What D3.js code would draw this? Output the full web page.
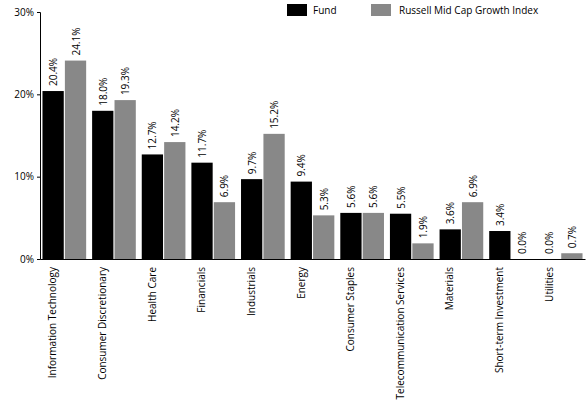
<!DOCTYPE html><html><head><script src="https://cdn.jsdelivr.net/npm/d3@7"></script>
<style>body{margin:0;background:#fff}text{font-family:"Open Sans",sans-serif;font-size:10px;fill:#000}</style></head><body>
<svg id="c" width="588" height="403"></svg>
<script>
const categories=["Information Technology","Consumer Discretionary","Health Care","Financials","Industrials","Energy","Consumer Staples","Telecommunication Services","Materials","Short-term Investment","Utilities"];
const fund=[20.4,18.0,12.7,11.7,9.7,9.4,5.6,5.5,3.6,3.4,0.0];
const index=[24.1,19.3,14.2,6.9,15.2,5.3,5.6,1.9,6.9,0.0,0.7];
const yTicks=[0,10,20,30];
const series=[{name:"Fund",vals:fund,color:"#000"},{name:"Russell Mid Cap Growth Index",vals:index,color:"#888"}];
const svg=d3.select("#c");
const x=d3.scaleBand().domain(categories).range([40,585]).paddingInner(0.12).paddingOuter(0.05);
const xs=d3.scaleBand().domain([0,1]).range([0,x.bandwidth()]).paddingInner(0.05);
const y=d3.scaleLinear().domain([0,30]).range([259,12]);
const ya=svg.append("g").attr("transform","translate(40,0)").call(d3.axisLeft(y).tickValues(yTicks).tickFormat(d=>d+"%").tickSize(3));
ya.selectAll("text").style("font-size","10px");
series.forEach((s,i)=>{
  const g=svg.append("g");
  g.selectAll("rect").data(s.vals).join("rect").attr("x",(d,j)=>x(categories[j])+xs(i)).attr("width",xs.bandwidth())
   .attr("y",d=>y(d)).attr("height",d=>259-y(d)).attr("fill",s.color);
  g.selectAll("text").data(s.vals).join("text").attr("transform",(d,j)=>`translate(${x(categories[j])+xs(i)+xs.bandwidth()/2+4},${y(d)-5}) rotate(-90)`)
   .text(d=>d.toFixed(1)+"%");
});
const xa=svg.append("g").attr("transform","translate(0,259)").call(d3.axisBottom(x).tickSize(0).tickFormat(""));
svg.append("g").selectAll("text").data(categories).join("text").attr("text-anchor","end")
 .attr("transform",d=>`translate(${x(d)+x.bandwidth()/2-8},267) rotate(-90)`).text(d=>d);
const lg=svg.append("g");
[[287,313],[371,399]].forEach((p,i)=>{
  lg.append("rect").attr("x",p[0]).attr("y",4).attr("width",20).attr("height",12).attr("fill",series[i].color);
  lg.append("text").attr("x",p[1]).attr("y",14).text(series[i].name);
});
</script></body></html>
